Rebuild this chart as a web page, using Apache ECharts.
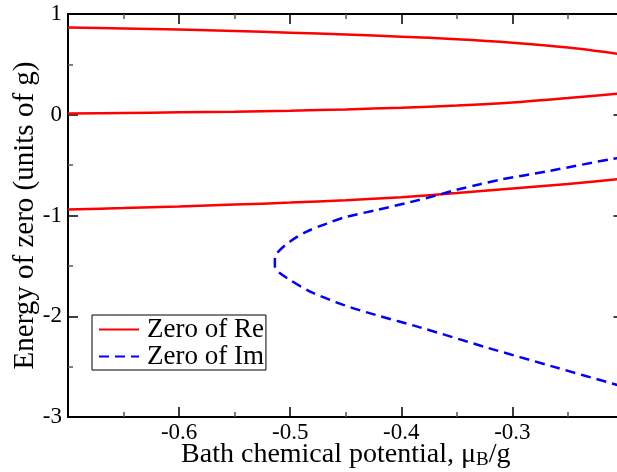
<!DOCTYPE html>
<html>
<head>
<meta charset="utf-8">
<script src="https://cdn.jsdelivr.net/npm/echarts@6/dist/echarts.min.js"></script>
<style>
html, body { margin: 0; padding: 0; background: #fff; }
#chart { width: 617px; height: 472px; }
</style>
</head>
<body>
<div id="chart"></div>
<script>
// zero of real part: three branches, sampled on mu
const muRe = [-0.7, -0.65, -0.6, -0.55, -0.5, -0.45, -0.4, -0.35, -0.3, -0.25, -0.2];
const reTop = [0.865, 0.857, 0.846, 0.832, 0.815, 0.796, 0.775, 0.75, 0.715, 0.667, 0.598];
const reMid = [0.013, 0.018, 0.024, 0.031, 0.04, 0.053, 0.07, 0.092, 0.122, 0.166, 0.214];
const reLow = [-0.94, -0.926, -0.91, -0.892, -0.872, -0.848, -0.818, -0.777, -0.732, -0.688, -0.635];

// zero of imaginary part: one curve folding back at mu ~ -0.514
const muIm = [-0.2, -0.2094, -0.2681, -0.3112, -0.3292, -0.3502, -0.3682, -0.3922, -0.4221, -0.451,
  -0.467, -0.4851, -0.5001, -0.512, -0.5138, -0.5138, -0.5105, -0.503, -0.4821, -0.4522,
  -0.4221, -0.3832, -0.3232, -0.2633, -0.2063, -0.2];
const im = [-0.425, -0.437, -0.56, -0.645, -0.69, -0.745, -0.8, -0.868, -0.945, -1.018,
  -1.08, -1.159, -1.258, -1.374, -1.43, -1.5, -1.56, -1.62, -1.755, -1.887,
  -1.99, -2.11, -2.31, -2.5, -2.68, -2.7];

const xTicks = ['-0.6', '-0.5', '-0.4', '-0.3'];
const yTicks = ['1', '0', '-1', '-2', '-3'];

const pair = (xs, ys) => xs.map((x, i) => [x, ys[i]]);
const font = 'Liberation Serif';

const chart = echarts.init(document.getElementById('chart'));

function xAxisCfg(pos, labels) {
  return {
    type: 'value', position: pos, min: -0.7, max: -0.2, interval: 0.1,
    axisLine: { show: true, onZero: false, lineStyle: { color: '#000', width: 2 } },
    axisTick: { show: true, inside: true, length: 10, lineStyle: { color: '#000', width: 1.5 } },
    minorTick: { show: true, splitNumber: 2, length: 5, lineStyle: { color: '#555', width: 1.5 } },
    splitLine: { show: false },
    axisLabel: {
      show: labels, margin: 4, color: '#000', fontFamily: font, fontSize: 23,
      formatter: v => {
        const s = v.toFixed(1);
        return xTicks.includes(s) ? s : '';
      }
    }
  };
}

function yAxisCfg(pos, labels) {
  return {
    type: 'value', position: pos, min: -3, max: 1, interval: 1,
    axisLine: { show: true, onZero: false, lineStyle: { color: '#000', width: 2 } },
    axisTick: { show: true, inside: true, length: 10, lineStyle: { color: '#000', width: 1.5 } },
    minorTick: { show: true, splitNumber: 2, length: 5, lineStyle: { color: '#555', width: 1.5 } },
    splitLine: { show: false },
    axisLabel: {
      show: labels, margin: 6, color: '#000', fontFamily: font, fontSize: 23,
      formatter: v => {
        const s = String(Math.round(v));
        return yTicks.includes(s) ? s : '';
      }
    }
  };
}

const xMain = xAxisCfg('bottom', true);
xMain.name = 'Bath chemical potential, μ{sub|B}/g';
xMain.nameLocation = 'middle';
xMain.nameGap = 22;
xMain.nameMoveOverlap = false;
xMain.nameTextStyle = {
  color: '#000', fontFamily: font, fontSize: 28,
  rich: { sub: { fontFamily: font, fontSize: 19, color: '#000', padding: [12, 0, 0, 0] } }
};

const yMain = yAxisCfg('left', true);
yMain.name = 'Energy of zero (units of g)';
yMain.nameLocation = 'middle';
yMain.nameGap = 28;
yMain.nameMoveOverlap = false;
yMain.nameTextStyle = { color: '#000', fontFamily: font, fontSize: 29 };

const reStyle = { color: '#ff0000', width: 2.5 };

chart.setOption({
  animation: false,
  backgroundColor: '#fff',
  grid: { left: 68, top: 14, right: -6.5, bottom: 55, outerBoundsMode: 'none', containLabel: false },
  legend: {
    left: 92, top: 315,
    orient: 'vertical',
    backgroundColor: '#fff',
    borderColor: '#000', borderWidth: 1,
    padding: [1, 2, 0, 6],
    itemGap: 0,
    itemWidth: 40, itemHeight: 14,
    itemStyle: { opacity: 0 },
    textStyle: { color: '#000', fontFamily: font, fontSize: 27, lineHeight: 27, padding: [0, 0, 0, 3] },
    data: ['Zero of Re', 'Zero of Im']
  },
  xAxis: [xMain, xAxisCfg('top', false)],
  yAxis: [yMain, yAxisCfg('right', false)],
  series: [
    { name: 'Zero of Re', type: 'line', data: pair(muRe, reTop), smooth: 0.3, symbol: 'none', lineStyle: reStyle, itemStyle: { color: '#ff0000' } },
    { name: 'Zero of Re', type: 'line', data: pair(muRe, reMid), smooth: 0.3, symbol: 'none', lineStyle: reStyle, itemStyle: { color: '#ff0000' } },
    { name: 'Zero of Re', type: 'line', data: pair(muRe, reLow), smooth: 0.3, symbol: 'none', lineStyle: reStyle, itemStyle: { color: '#ff0000' } },
    {
      name: 'Zero of Im', type: 'line', data: pair(muIm, im), smooth: 0.3, symbol: 'none',
      lineStyle: { color: '#0000ff', width: 2.5, type: [10, 6] }, itemStyle: { color: '#0000ff' }
    }
  ]
});
</script>
</body>
</html>
